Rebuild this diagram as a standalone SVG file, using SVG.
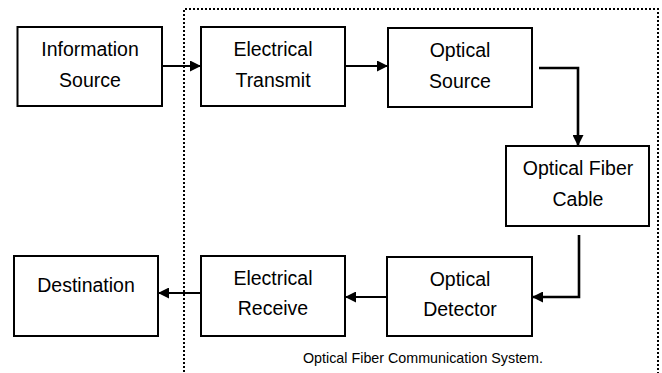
<svg xmlns="http://www.w3.org/2000/svg" width="662" height="373" viewBox="0 0 662 373">
<defs>
<style>
.box{fill:#fff;stroke:#000;stroke-width:2}
.lbl{font-family:"Liberation Sans",Arial,sans-serif;font-size:19.5px;fill:#000;text-anchor:middle}
.thin{fill:none;stroke:#000;stroke-width:1.8}
.thick{fill:none;stroke:#000;stroke-width:2.6}
.cap{font-family:"Liberation Sans",Arial,sans-serif;font-size:14.3px;fill:#000}
</style>
<marker id="ah" viewBox="0 0 10 10" refX="10" refY="5" markerWidth="11" markerHeight="11" markerUnits="userSpaceOnUse" orient="auto">
<path d="M0,0 L10,5 L0,10 z" fill="#000"/>
</marker>
</defs>
<rect width="662" height="373" fill="#fff"/>
<path d="M184,380 V9 H658 V380" fill="none" stroke="#000" stroke-width="2" stroke-dasharray="2 2"/>
<g id="connectors">
<line class="thin" x1="162" y1="66" x2="201" y2="66" marker-end="url(#ah)"/>
<line class="thin" x1="345" y1="66" x2="388" y2="66" marker-end="url(#ah)"/>
<polyline class="thick" points="539,68 578,68 578,146" marker-end="url(#ah)"/>
<polyline class="thick" points="579,235 579,297 532,297" marker-end="url(#ah)"/>
<line class="thin" x1="387" y1="297" x2="345" y2="297" marker-end="url(#ah)"/>
<line class="thin" x1="201" y1="293" x2="158" y2="293" marker-end="url(#ah)"/>
</g>
<g id="info-source">
<rect class="box" x="17.5" y="27" width="144.5" height="79"/>
<text class="lbl" x="90" y="56">Information</text>
<text class="lbl" x="90" y="87">Source</text>
</g>
<g id="electrical-transmit">
<rect class="box" x="201" y="27" width="144" height="79"/>
<text class="lbl" x="273" y="56">Electrical</text>
<text class="lbl" x="273" y="87">Transmit</text>
</g>
<g id="optical-source">
<rect class="box" x="388" y="28" width="144" height="79"/>
<text class="lbl" x="460" y="57">Optical</text>
<text class="lbl" x="460" y="88">Source</text>
</g>
<g id="optical-fiber-cable">
<rect class="box" x="506" y="146" width="143" height="80"/>
<text class="lbl" x="578" y="175">Optical Fiber</text>
<text class="lbl" x="578" y="206">Cable</text>
</g>
<g id="optical-detector">
<rect class="box" x="387" y="257" width="145" height="79"/>
<text class="lbl" x="460" y="286">Optical</text>
<text class="lbl" x="460" y="316">Detector</text>
</g>
<g id="electrical-receive">
<rect class="box" x="201" y="256" width="144" height="80"/>
<text class="lbl" x="273" y="285">Electrical</text>
<text class="lbl" x="273" y="315">Receive</text>
</g>
<g id="destination">
<rect class="box" x="14" y="256" width="144" height="80"/>
<text class="lbl" x="86" y="292">Destination</text>
</g>
<text class="cap" x="303" y="363">Optical Fiber Communication System.</text>
</svg>
